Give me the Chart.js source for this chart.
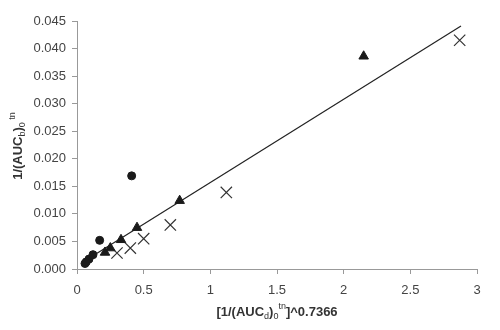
<!DOCTYPE html>
<html>
<head>
<meta charset="utf-8">
<script src="https://cdn.jsdelivr.net/npm/chart.js@4"></script>
<style>
  html, body { margin: 0; padding: 0; background: #fff; }
  canvas { display: block; }
</style>
</head>
<body>
<canvas id="c" width="500" height="330"></canvas>
<script>
// ---- data ----
const circleX   = [0.06, 0.07, 0.09, 0.12, 0.17, 0.41];
const circleY   = [0.0010, 0.0013, 0.0018, 0.0026, 0.0052, 0.0169];
const triangleX = [0.21, 0.25, 0.33, 0.45, 0.77, 2.15];
const triangleY = [0.0030, 0.0038, 0.0053, 0.0075, 0.0124, 0.0386];
const crossX    = [0.30, 0.40, 0.50, 0.70, 1.12, 2.87];
const crossY    = [0.0029, 0.0038, 0.0055, 0.0080, 0.0139, 0.0415];
const fitX      = [0.06, 2.88];
const fitY      = [0.0015, 0.0441];
const xTicks    = [0, 0.5, 1, 1.5, 2, 2.5, 3];
const yTicks    = [0, 0.005, 0.010, 0.015, 0.020, 0.025, 0.030, 0.035, 0.040, 0.045];

// title pieces: [text, kind] kind: 'n' normal, 'sub', 'sup'
const yTitle = [["1/(AUC", "n"], ["b", "sub"], [")", "n"], ["0", "sub"], [" tn", "sup"]];
const xTitle = [["[1/(AUC", "n"], ["d", "sub"], [")", "n"], ["0", "sub"], ["tn", "sup"], ["]^0.7366", "n"]];

const pts = (xs, ys) => xs.map((x, i) => ({ x: x, y: ys[i] }));

function drawRich(ctx, parts, cx, baseline) {
  const fMain = "bold 13px 'Liberation Sans', Arial, sans-serif";
  const fSmall = "9px 'Liberation Sans', Arial, sans-serif";
  let total = 0;
  const widths = parts.map(([t, k]) => {
    ctx.font = k === "n" ? fMain : fSmall;
    const w = ctx.measureText(t).width;
    total += w;
    return w;
  });
  let x = cx - total / 2;
  parts.forEach(([t, k], i) => {
    ctx.font = k === "n" ? fMain : fSmall;
    const dy = k === "sub" ? 3 : (k === "sup" ? -7 : 0);
    ctx.fillText(t, x, baseline + dy);
    x += widths[i];
  });
}

const titlePlugin = {
  id: "richTitles",
  afterDraw(chart) {
    const ctx = chart.ctx;
    const a = chart.chartArea;
    ctx.save();
    ctx.fillStyle = "#333";
    ctx.textBaseline = "alphabetic";
    ctx.textAlign = "left";
    drawRich(ctx, xTitle, (a.left + a.right) / 2, 316);
    ctx.translate(16, (a.top + a.bottom) / 2 + 1);
    ctx.rotate(-Math.PI / 2);
    drawRich(ctx, yTitle, 0, 6);
    ctx.restore();
  }
};

const tickFont = { family: "'Liberation Sans', Arial, sans-serif", size: 13 };

new Chart(document.getElementById("c"), {
  type: "scatter",
  data: {
    datasets: [
      { label: "circles", data: pts(circleX, circleY), pointStyle: "circle", radius: 4,
        backgroundColor: "#1a1a1a", borderColor: "#1a1a1a", borderWidth: 1 },
      { label: "triangles", data: pts(triangleX, triangleY), pointStyle: "triangle", radius: 5.5,
        backgroundColor: "#1a1a1a", borderColor: "#1a1a1a", borderWidth: 1 },
      { label: "crosses", data: pts(crossX, crossY), pointStyle: "crossRot", radius: 8,
        backgroundColor: "#333", borderColor: "#333", borderWidth: 1.2 },
      { label: "fit", type: "line", data: pts(fitX, fitY), showLine: true, pointRadius: 0,
        borderColor: "#222", borderWidth: 1.2, fill: false, tension: 0 }
    ]
  },
  options: {
    responsive: false,
    animation: false,
    events: [],
    layout: { padding: { top: 21, right: 23, left: 0, bottom: 0 } },
    plugins: { legend: { display: false }, tooltip: { enabled: false } },
    scales: {
      x: {
        type: "linear", min: 0, max: 3,
        afterFit(s) { s.height = 61; },
        afterBuildTicks(s) { s.ticks = xTicks.map(v => ({ value: v })); },
        ticks: { font: tickFont, color: "#444", padding: 9,
                 callback: v => String(v) },
        grid: { display: true, drawOnChartArea: false, drawTicks: true, tickLength: 5, color: "#999" },
        border: { display: true, color: "#999" }
      },
      y: {
        type: "linear", min: 0, max: 0.045,
        afterFit(s) { s.width = 77; },
        afterBuildTicks(s) { s.ticks = yTicks.map(v => ({ value: v })); },
        ticks: { font: tickFont, color: "#444", padding: 6,
                 callback: v => Number(v).toFixed(3) },
        grid: { display: true, drawOnChartArea: false, drawTicks: true, tickLength: 5, color: "#999" },
        border: { display: true, color: "#999" }
      }
    }
  },
  plugins: [titlePlugin]
});
</script>
</body>
</html>
